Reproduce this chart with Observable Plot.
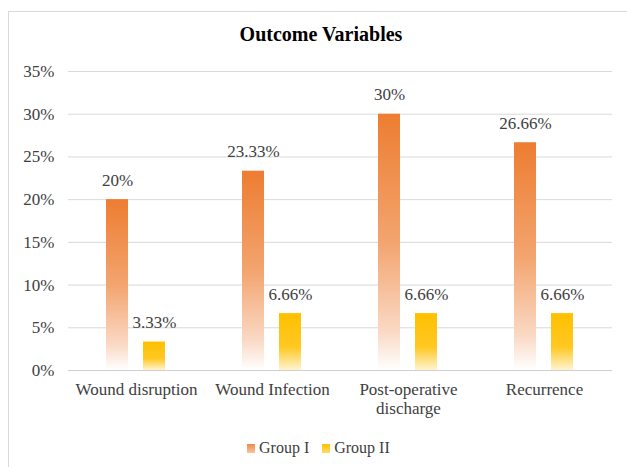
<!DOCTYPE html>
<html>
<head>
<meta charset="utf-8">
<script src="https://cdn.jsdelivr.net/npm/d3@7"></script>
<script src="https://cdn.jsdelivr.net/npm/@observablehq/plot@0.6"></script>
<style>
  html, body { margin: 0; padding: 0; background: #fff; }
  #wrap { position: relative; width: 627px; height: 467px; overflow: hidden; background: #fff; font-family: "Liberation Serif", "Times New Roman", serif; }
  #box { position: absolute; left: 8px; top: 11px; width: 700px; height: 600px; border: 1px solid #d9d9d9; }
  #title { position: absolute; left: 8px; top: 23px; width: 626px; text-align: center; font-weight: bold; font-size: 20px; color: #000; }
  #chart { position: absolute; left: 0; top: 50px; }
  #chart svg, #chart svg text, #chart svg g { font-family: "Liberation Serif", "Times New Roman", serif !important; }
  #legend { position: absolute; left: 247px; top: 439px; display: flex; align-items: center; font-size: 16px; color: #404040; white-space: nowrap; }
  .sw { display: inline-block; width: 8px; height: 9px; margin-right: 4px; }
</style>
</head>
<body>
<div id="wrap">
  <div id="box"></div>
  <div id="title">Outcome Variables</div>
  <div id="chart"></div>
  <div id="legend">
    <span class="sw" style="background:linear-gradient(#EF8A48,#F8C3A0)"></span><span>Group I</span>
    <span class="sw" style="background:linear-gradient(#FFC000,#FFDC6A);margin-left:13px"></span><span>Group II</span>
  </div>
</div>
<script>
const categories = ["Wound disruption", "Wound Infection", "Post-operative discharge", "Recurrence"];
const groups = ["Group I", "Group II"];
const groupI = [0.20, 0.2333, 0.30, 0.2666];
const groupII = [0.0333, 0.0666, 0.0666, 0.0666];
const yTicks = [0, 0.05, 0.10, 0.15, 0.20, 0.25, 0.30, 0.35];
const axisLabels = {"Post-operative discharge": "Post-operative\ndischarge"};

const fills = {"Group I": "url(#gradI)", "Group II": "url(#gradII)"};
const data = [];
categories.forEach((c, i) => {
  data.push({category: c, group: "Group I", value: groupI[i]});
  data.push({category: c, group: "Group II", value: groupII[i]});
});
data.forEach(d => d.fill = fills[d.group]);

const fmtLabel = v => (+(v * 100).toFixed(2)) + "%";
const serif = "Liberation Serif";

const chart = Plot.plot({
  width: 627,
  height: 370,
  marginLeft: 67,
  marginRight: 15,
  marginTop: 21,
  marginBottom: 50,
  style: {fontFamily: serif, fontSize: "17px", color: "#404040", background: "transparent"},
  fx: {domain: categories, padding: 0, label: null},
  x: {domain: groups, paddingInner: 0.405, paddingOuter: 1.04, axis: null},
  y: {domain: [0, 0.35], label: null},
  color: {type: "identity"},
  marks: [
    Plot.gridY(yTicks, {stroke: "#d9d9d9", strokeOpacity: 1}),
    Plot.ruleY([0], {stroke: "#d0d0d0"}),
    Plot.axisY({ticks: yTicks, tickFormat: d3.format(".0%"), tickSize: 0, tickPadding: 14, label: null, fill: "#404040", fontFamily: serif}),
    Plot.axisFx({anchor: "bottom", tickSize: 0, tickPadding: 11, label: null, fill: "#404040", fontFamily: serif,
      tickFormat: d => axisLabels[d] || d, lineHeight: 1.12}),
    Plot.barY(data, {fx: "category", x: "group", y: "value", fill: "fill"}),
    Plot.text(data, {fx: "category", x: "group", y: "value", text: d => fmtLabel(d.value),
      lineAnchor: "bottom", dy: -14, fill: "#404040", fontFamily: serif})
  ]
});

const ns = "http://www.w3.org/2000/svg";
const defs = document.createElementNS(ns, "defs");
defs.innerHTML = `
  <linearGradient id="gradI" x1="0" y1="0" x2="0" y2="1">
    <stop offset="0" stop-color="#ED7D31"/>
    <stop offset="0.5" stop-color="#F3A46F"/>
    <stop offset="0.85" stop-color="#FAD9C4"/>
    <stop offset="1" stop-color="#FFFFFF"/>
  </linearGradient>
  <linearGradient id="gradII" x1="0" y1="0" x2="0" y2="1">
    <stop offset="0" stop-color="#FFC000"/>
    <stop offset="0.6" stop-color="#FFC823"/>
    <stop offset="1" stop-color="#FFF4D2"/>
  </linearGradient>`;
chart.insertBefore(defs, chart.firstChild);
document.getElementById("chart").appendChild(chart);
</script>
</body>
</html>
